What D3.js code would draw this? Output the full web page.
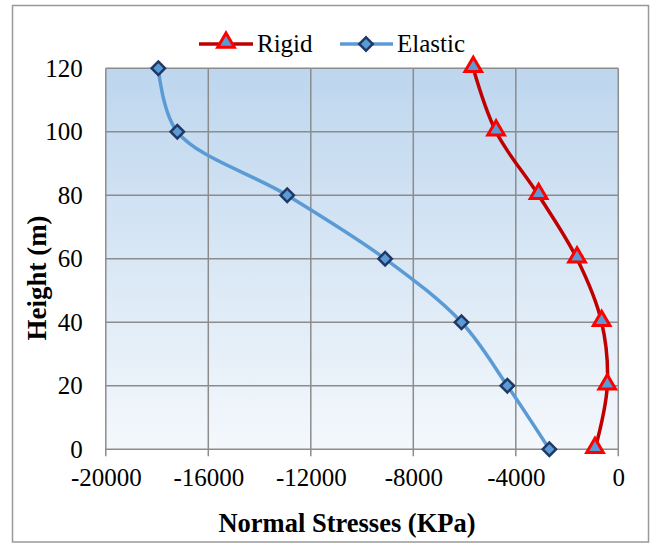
<!DOCTYPE html>
<html><head><meta charset="utf-8">
<script src="https://cdn.jsdelivr.net/npm/d3@7"></script>
<style>body{margin:0;background:#fff}svg{display:block}</style>
</head><body>
<svg id="c" width="651" height="544"></svg>
<script>
const heights = [0, 20, 40, 60, 80, 100, 120];
const rigid = [-910, -430, -650, -1610, -3110, -4770, -5660];
const elastic = [-2690, -4330, -6120, -9100, -12920, -17210, -17950];
const xTicks = [-20000, -16000, -12000, -8000, -4000, 0];
const yTicks = [0, 20, 40, 60, 80, 100, 120];
const seriesNames = ["Rigid", "Elastic"];

const svg = d3.select("#c");
const serif = "'Liberation Serif','Times New Roman',serif";
const m = {l: 105.8, r: 618.3, t: 68.3, b: 449.3};
const x = d3.scaleLinear().domain([-20000, 0]).range([m.l, m.r]);
const y = d3.scaleLinear().domain([0, 120]).range([m.b, m.t]);

// outer border
svg.append("rect").attr("x", 12.5).attr("y", 5.5).attr("width", 636).attr("height", 536.5)
  .attr("fill", "#fff").attr("stroke", "#999").attr("stroke-width", 1.5);

// gradient plot background
const defs = svg.append("defs");
const g = defs.append("linearGradient").attr("id", "bg").attr("x1", 0).attr("y1", 0).attr("x2", 0).attr("y2", 1);
g.append("stop").attr("offset", "0%").attr("stop-color", "#bdd6ee");
g.append("stop").attr("offset", "100%").attr("stop-color", "#f4f8fc");
svg.append("rect").attr("x", m.l).attr("y", m.t).attr("width", m.r - m.l).attr("height", m.b - m.t).attr("fill", "url(#bg)");

// grid
const grid = svg.append("g").attr("stroke", "#8c8c8c").attr("stroke-width", 1.5);
xTicks.forEach(v => grid.append("line").attr("x1", x(v)).attr("x2", x(v)).attr("y1", m.t).attr("y2", m.b + 7));
yTicks.forEach(v => grid.append("line").attr("x1", m.l).attr("x2", m.r).attr("y1", y(v)).attr("y2", y(v)));

// axes (tick labels via d3 axis)
const fmt = d => String(d);
const xAxis = svg.append("g").attr("transform", `translate(0,${m.b})`)
  .call(d3.axisBottom(x).tickValues(xTicks).tickSize(0).tickPadding(22).tickFormat(fmt));
xAxis.select(".domain").remove();
xAxis.selectAll("text").attr("font-family", serif).attr("font-size", 25).attr("fill", "#000").attr("dy", "0.71em").attr("y", 19);

const yAxis = svg.append("g").attr("transform", `translate(${m.l},0)`)
  .call(d3.axisLeft(y).tickValues(yTicks).tickSize(0).tickPadding(23).tickFormat(fmt));
yAxis.select(".domain").remove();
yAxis.selectAll("text").attr("font-family", serif).attr("font-size", 25).attr("fill", "#000");

// titles
svg.append("text").attr("x", 347).attr("y", 532).attr("text-anchor", "middle")
  .attr("font-family", serif).attr("font-weight", "bold").attr("font-size", 26.5).text("Normal Stresses (KPa)");
svg.append("text").attr("transform", "translate(46,278) rotate(-90)").attr("text-anchor", "middle")
  .attr("font-family", serif).attr("font-weight", "bold").attr("font-size", 27).text("Height (m)");

const line = d3.line().x(d => x(d[0])).y(d => y(d[1])).curve(d3.curveCatmullRom.alpha(0.5));
const rigidPts = rigid.map((v, i) => [v, heights[i]]);
const elasticPts = elastic.map((v, i) => [v, heights[i]]);

const tri = d3.symbol().type(d3.symbolTriangle).size(120);
const dia = d3.symbol().type(d3.symbolSquare).size(90);

svg.append("path").attr("d", line(elasticPts)).attr("fill", "none").attr("stroke", "#5b9bd5").attr("stroke-width", 3.5);
svg.append("path").attr("d", line(rigidPts)).attr("fill", "none").attr("stroke", "#c00000").attr("stroke-width", 3.5);

svg.selectAll(".em").data(elasticPts).enter().append("path")
  .attr("d", dia).attr("transform", d => `translate(${x(d[0])},${y(d[1])}) rotate(45)`)
  .attr("fill", "#5b9bd5").attr("stroke", "#1f3864").attr("stroke-width", 2.5);
svg.selectAll(".rm").data(rigidPts).enter().append("path")
  .attr("d", tri).attr("transform", d => `translate(${x(d[0])},${y(d[1]) - 1.5})`)
  .attr("fill", "#5b9bd5").attr("stroke", "#ff0000").attr("stroke-width", 3);

// legend
const lg = svg.append("g");
lg.append("line").attr("x1", 199).attr("x2", 253).attr("y1", 44).attr("y2", 44).attr("stroke", "#c00000").attr("stroke-width", 3.5);
lg.append("path").attr("d", tri).attr("transform", "translate(226,42.5)").attr("fill", "#5b9bd5").attr("stroke", "#ff0000").attr("stroke-width", 3);
lg.append("text").attr("x", 257).attr("y", 52).attr("font-family", serif).attr("font-size", 25).text(seriesNames[0]);
lg.append("line").attr("x1", 340).attr("x2", 393).attr("y1", 44).attr("y2", 44).attr("stroke", "#5b9bd5").attr("stroke-width", 3.5);
lg.append("path").attr("d", dia).attr("transform", "translate(366,44) rotate(45)").attr("fill", "#5b9bd5").attr("stroke", "#1f3864").attr("stroke-width", 2.5);
lg.append("text").attr("x", 397).attr("y", 52).attr("font-family", serif).attr("font-size", 25).text(seriesNames[1]);
</script>
</body></html>
